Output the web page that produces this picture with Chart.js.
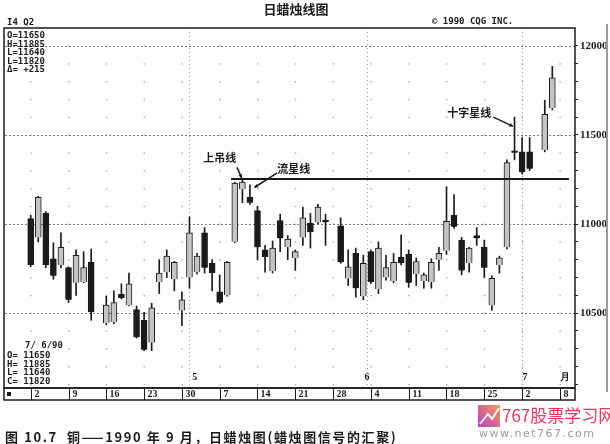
<!DOCTYPE html>
<html>
<head>
<meta charset="utf-8">
<script src="https://cdn.jsdelivr.net/npm/chart.js@4.4.1/dist/chart.umd.min.js"></script>
<style>
  html, body { margin: 0; padding: 0; background: #fff; }
  #wrap { width: 610px; height: 444px; }
</style>
</head>
<body>
<div id="wrap"><canvas id="candleChart" width="610" height="444"></canvas></div>
<script>
// trading-day slot of each candle (gaps = no session)
const slots = [0, 1, 2, 3, 4, 5, 6, 7, 8,
  10, 11, 12, 13, 14, 15, 16, 17, 18, 19, 20, 21, 22, 23, 24, 25, 26, 27, 28, 29,
  30, 31, 32, 33, 34, 35, 36, 37, 38, 39,
  41, 42, 43, 44, 45, 46, 47, 48, 49, 50, 51, 52, 53, 54, 55, 56, 57, 58, 59, 60,
  61, 62, 63, 64, 65, 66, 68, 69];
const opens = [11030, 10925, 11060, 10805, 10770, 10755, 10670, 10675, 10785,
  10445, 10450, 10605, 10545, 10520, 10460, 10335, 10675, 10730, 10690, 10515, 10700, 10730, 10950, 10780, 10620, 10600, 10900, 11195, 11150,
  11075, 10855, 10735, 11020, 10870, 10810, 10925, 11005, 11010, 11020,
  10990, 10695, 10835, 10595, 10845, 10635, 10700, 10680, 10815, 10830, 10720, 10680, 10675, 10800, 10850, 11050, 10910, 10780, 10935, 10870,
  10545, 10770, 10870, 11405, 11405, 11405, 11415, 11650];
const highs = [11050, 11155, 11070, 10895, 10950, 10760, 10855, 10845, 10860,
  10595, 10625, 10665, 10725, 10540, 10505, 10555, 10800, 10855, 10790, 10620, 11040, 10835, 10980, 10800, 10715, 10790, 11235, 11250, 11220,
  11100, 10880, 10905, 11055, 10935, 10855, 11095, 11060, 11110, 11055,
  11035, 10855, 10865, 10825, 10855, 10900, 10825, 10835, 10940, 10855, 10810, 10725, 10805, 10870, 11210, 11165, 10925, 10870, 10980, 10910,
  10710, 10820, 11360, 11600, 11485, 11485, 11695, 11885];
const lows = [10760, 10900, 10755, 10690, 10755, 10560, 10600, 10670, 10460,
  10435, 10440, 10580, 10540, 10360, 10290, 10290, 10610, 10700, 10625, 10430, 10640, 10720, 10725, 10625, 10555, 10595, 10895, 11120, 11110,
  10800, 10730, 10725, 10845, 10800, 10740, 10880, 10865, 11000, 10880,
  10780, 10655, 10590, 10575, 10665, 10610, 10685, 10670, 10770, 10645, 10655, 10640, 10640, 10740, 10830, 10975, 10715, 10730, 10880, 10700,
  10515, 10725, 10860, 11360, 11280, 11300, 11405, 11640];
const closes = [10770, 11150, 10770, 10710, 10870, 10575, 10825, 10755, 10505,
  10545, 10560, 10585, 10665, 10365, 10295, 10530, 10725, 10820, 10785, 10575, 10950, 10820, 10755, 10725, 10560, 10785, 11230, 11235, 11120,
  10870, 10815, 10865, 10920, 10915, 10845, 11035, 10955, 11095, 11010,
  10785, 10760, 10640, 10780, 10675, 10865, 10755, 10785, 10780, 10670, 10790, 10715, 10785, 10835, 11015, 10985, 10740, 10865, 10920, 10755,
  10695, 10810, 11345, 11400, 11290, 11310, 11615, 11820];

// weekly date strip
const weekTicks = [0, 5, 10, 15, 20, 25, 30, 35, 40, 45, 50, 55, 60, 65, 70];
const weekLabels = ['2', '9', '16', '23', '30', '7', '14', '21', '28', '4', '11', '18', '25', '2', '8'];
// month markers inside the plot
const monthLines = [21, 44.5, 65];
const monthMarks = [21.7, 44.5, 65.4, 70.7];
const monthLabels = ['5', '6', '7', '月'];
// price axis
const priceLabels = [10500, 11000, 11500, 12000];
const priceMin = 10080, priceMax = 12100, priceStep = 100;

const resistance = 11253;
const notes = [
  { text: '上吊线', at: [25.0, 11371], from: [27.3, 11318], to: [27.9, 11258] },
  { text: '流星线', at: [34.8, 11309], from: [32.6, 11287], to: [29.6, 11205] },
  { text: '十字星线', at: [58.0, 11622], from: [61.2, 11600], to: [63.8, 11548] }
];

const INK = '#1b1b1b';
const minorTicks = [];
for (let p = priceMin + 20; p <= 12000; p += priceStep) minorTicks.push(p);

const overlay = {
  id: 'overlay',
  beforeDatasetsDraw(chart) {
    const { ctx, chartArea: a, scales: { x, y } } = chart;
    ctx.save();
    // dot grid
    ctx.fillStyle = '#b0b0b0';
    weekTicks.forEach(w => {
      const px = x.getPixelForValue(w);
      if (px <= a.left + 2 || px >= a.right - 2) return;
      minorTicks.forEach(p => ctx.fillRect(px - 0.5, y.getPixelForValue(p) - 0.5, 1.5, 1.5));
    });
    // month lines
    ctx.strokeStyle = '#9a9a9a';
    ctx.lineWidth = 1;
    ctx.setLineDash([1, 3]);
    monthLines.forEach(m => {
      const px = Math.round(x.getPixelForValue(m)) + 0.5;
      ctx.beginPath(); ctx.moveTo(px, a.top); ctx.lineTo(px, a.bottom); ctx.stroke();
    });
    // price lines
    ctx.strokeStyle = '#7a7a7a';
    ctx.setLineDash([2, 2]);
    priceLabels.forEach(p => {
      const py = Math.round(y.getPixelForValue(p)) + 0.5;
      ctx.beginPath(); ctx.moveTo(a.left, py); ctx.lineTo(a.right, py); ctx.stroke();
    });
    ctx.restore();
  },
  afterDatasetsDraw(chart) {
    const { ctx, chartArea: a, scales: { x, y } } = chart;
    ctx.save();
    ctx.fillStyle = INK;
    ctx.strokeStyle = INK;

    // frame
    ctx.lineWidth = 1.5;
    ctx.strokeRect(a.left - 1, a.top, a.right - a.left + 1, a.bottom - a.top);

    // resistance line
    ctx.lineWidth = 2;
    const ry = y.getPixelForValue(resistance);
    ctx.beginPath();
    ctx.moveTo(x.getPixelForValue(26.5), ry);
    ctx.lineTo(x.getPixelForValue(71.2), ry);
    ctx.stroke();

    // notes
    ctx.font = 'bold 11px "Noto Sans CJK SC"';
    ctx.textAlign = 'center';
    ctx.textBaseline = 'middle';
    ctx.lineWidth = 1.5;
    notes.forEach(n => {
      ctx.fillText(n.text, x.getPixelForValue(n.at[0]), y.getPixelForValue(n.at[1]));
      const x1 = x.getPixelForValue(n.from[0]), y1 = y.getPixelForValue(n.from[1]);
      const x2 = x.getPixelForValue(n.to[0]), y2 = y.getPixelForValue(n.to[1]);
      ctx.beginPath(); ctx.moveTo(x1, y1); ctx.lineTo(x2, y2); ctx.stroke();
      const ang = Math.atan2(y2 - y1, x2 - x1);
      ctx.beginPath();
      ctx.moveTo(x2, y2);
      ctx.lineTo(x2 - 4 * Math.cos(ang - 0.5), y2 - 4 * Math.sin(ang - 0.5));
      ctx.lineTo(x2 - 4 * Math.cos(ang + 0.5), y2 - 4 * Math.sin(ang + 0.5));
      ctx.closePath(); ctx.fill();
    });

    // month labels
    ctx.font = 'bold 10px "Liberation Serif"';
    monthMarks.forEach((m, i) => ctx.fillText(monthLabels[i], x.getPixelForValue(m), y.getPixelForValue(10140)));

    // date strip
    const sTop = a.bottom, sBot = a.bottom + 12;
    ctx.lineWidth = 1.5;
    ctx.strokeRect(a.left - 1, sTop, a.right - a.left + 1, sBot - sTop);
    ctx.lineWidth = 1;
    ctx.textAlign = 'left';
    ctx.font = 'bold 10px "Liberation Serif"';
    weekTicks.forEach((w, i) => {
      const px = Math.round(x.getPixelForValue(w)) + 0.5;
      ctx.beginPath(); ctx.moveTo(px, sTop); ctx.lineTo(px, sBot); ctx.stroke();
      ctx.fillText(weekLabels[i], px + 3, sTop + 6.5);
    });
    ctx.fillRect(a.left + 2, sTop + 4, 4, 4);

    // legends
    ctx.font = 'bold 9px "DejaVu Sans Mono"';
    const last = opens.length - 1;
    const topLines = ['O=' + opens[last], 'H=' + highs[last], 'L=' + lows[last], 'L=' + closes[last], 'Δ= +215'];
    topLines.forEach((t, i) => ctx.fillText(t, a.left + 2, a.top + 8 + i * 8.4));
    const botLines = ['O= ' + opens[last], 'H= ' + highs[last], 'L= ' + lows[last], 'C= ' + closes[last]];
    ctx.fillText('7/ 6/90', a.left + 20, a.bottom - 42);
    botLines.forEach((t, i) => ctx.fillText(t, a.left + 2, a.bottom - 32 + i * 8.5));

    // header
    ctx.font = 'bold 9px "DejaVu Sans Mono"';
    ctx.fillText('I4 Q2', a.left + 2, a.top - 5);
    ctx.fillText('© 1990 CQG INC.', 432, a.top - 6);
    ctx.font = 'bold 13px "Noto Sans CJK SC"';
    ctx.textAlign = 'center';
    ctx.fillText('日蜡烛线图', 296, 9);

    // right edge
    ctx.fillStyle = '#9a9a9a';
    ctx.fillRect(606, 24, 2, 368);

    // caption
    ctx.fillStyle = INK;
    ctx.textAlign = 'left';
    ctx.font = 'bold 13px "Noto Sans CJK SC"';
    ctx.letterSpacing = '1.6px';
    ctx.fillText('图 10.7  铜——1990 年 9 月，日蜡烛图(蜡烛图信号的汇聚)', 5, 437);
    ctx.letterSpacing = '0px';

    // watermark
    const g = ctx.createLinearGradient(478, 428, 500, 405);
    g.addColorStop(0, '#b93bd1');
    g.addColorStop(1, '#f59a4a');
    ctx.fillStyle = g;
    ctx.fillRect(478, 405, 22, 22);
    ctx.strokeStyle = '#fff';
    ctx.lineWidth = 2;
    ctx.beginPath(); ctx.moveTo(480, 424); ctx.lineTo(488, 414); ctx.lineTo(492, 419); ctx.lineTo(499, 408); ctx.stroke();
    ctx.fillStyle = '#e23a5a';
    ctx.font = '17px "Noto Sans CJK SC"';
    ctx.fillText('767股票学习网', 502, 416);
    ctx.fillStyle = '#9a9a9a';
    ctx.font = '11px "DejaVu Sans"';
    ctx.letterSpacing = '1.5px';
    ctx.fillText('www.net767.com', 479, 434);
    ctx.restore();
  }
};

const ctx = document.getElementById('candleChart').getContext('2d');

new Chart(ctx, {
  type: 'bar',
  data: {
    datasets: [{
      label: '实体',
      data: slots.map((s, i) => ({ x: s, y: [Math.min(opens[i], closes[i]), Math.max(opens[i], closes[i])] })),
      backgroundColor: slots.map((s, i) => closes[i] >= opens[i] ? '#c4c4c4' : INK),
      borderColor: INK,
      borderWidth: 1,
      barThickness: 6,
      minBarLength: 2,
      grouped: false,
      order: 0
    }, {
      label: '影线',
      data: slots.map((s, i) => ({ x: s, y: [lows[i], highs[i]] })),
      backgroundColor: INK,
      barThickness: 1,
      grouped: false,
      order: 1
    }]
  },
  options: {
    responsive: false,
    animation: false,
    events: [],
    layout: { padding: { left: 5, top: 28, right: 2, bottom: 56 } },
    plugins: { legend: { display: false }, tooltip: { enabled: false } },
    scales: {
      x: { type: 'linear', min: -3.4, max: 72, offset: false, display: false },
      y: {
        position: 'right',
        min: priceMin,
        max: priceMax,
        afterBuildTicks: s => { s.ticks = minorTicks.map(v => ({ value: v })); },
        afterFit: s => { s.width = 33; },
        grid: { drawOnChartArea: false, tickLength: 3, tickColor: INK },
        border: { display: false },
        ticks: {
          autoSkip: false,
          padding: 2,
          color: INK,
          font: { family: 'Liberation Serif', size: 11, weight: 'bold' },
          callback: v => priceLabels.includes(v) ? String(v) : ''
        }
      }
    }
  },
  plugins: [overlay]
});
</script>
</body>
</html>
